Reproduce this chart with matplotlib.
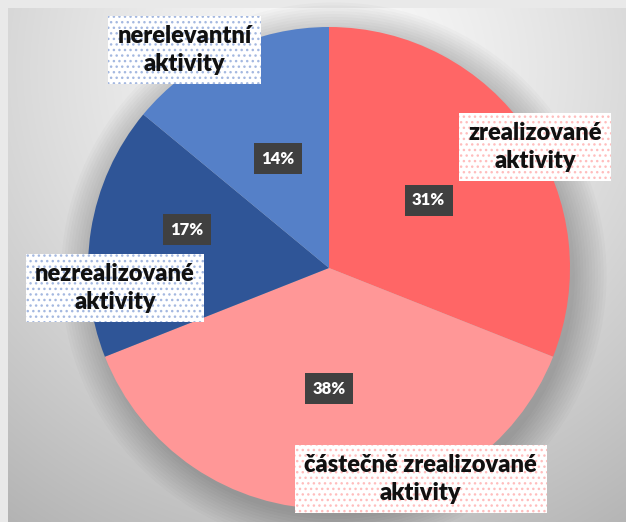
import numpy as np
import matplotlib as mpl
mpl.use('Agg')
import matplotlib.pyplot as plt
from matplotlib.patches import Circle

plt.rcParams['font.family'] = ['Lato', 'DejaVu Sans']
plt.rcParams['hatch.linewidth'] = 1.0

# data
categories = ['zrealizované\naktivity', 'částečně zrealizované\naktivity',
              'nezrealizované\naktivity', 'nerelevantní\naktivity']
shares = [31, 38, 17, 14]
colors = ['#FF6666', '#FF9797', '#2F5597', '#5580C8']
dots = ['#FFBDBD', '#FFBDBD', '#A4B8E0', '#A4B8E0']

W, H = 626, 522
R = 241.0          # pie radius in px
cx, cy = 329, 268  # pie centre in px (from top)

fig = plt.figure(figsize=(W / 100, H / 100), dpi=100)
fig.patch.set_facecolor('#E9E9E9')

# background panel with radial gradient
bg = fig.add_axes([8 / W, 0, 1 - 8 / W, 1 - 8 / H])
bg.set_axis_off()
yy, xx = np.mgrid[0:514, 0:618]
d = np.sqrt(((xx - 320) / 520.0) ** 2 + ((yy - 60) / 520.0) ** 2)
g = np.clip(0.985 - 0.26 * d ** 1.3, 0, 1)
bg.imshow(np.dstack([g, g, g]), aspect='auto', interpolation='bilinear')

ax = fig.add_axes([0, 0, 1, 1])
ax.set_axis_off()
ax.patch.set_alpha(0)

# soft shadow behind the pie
for k in range(12):
    ax.add_patch(Circle((0.02, -0.03), 1.0 + 0.012 * k, color='black',
                        alpha=0.018, lw=0, zorder=0))

wedges, _ = ax.pie(shares, colors=colors, startangle=90, counterclock=False,
                   wedgeprops=dict(linewidth=0), radius=1.0)
for w in wedges:
    w.set_zorder(2)

ax.set_xlim(-cx / R, (W - cx) / R)
ax.set_ylim(-(H - cy) / R, cy / R)
ax.set_aspect('auto')

# percentage labels
pct_r = [0.5, 0.5, 0.61, 0.5]
pct_shift = [0, 0, -6, 0]
for w, v, r, s in zip(wedges, shares, pct_r, pct_shift):
    a = np.deg2rad((w.theta1 + w.theta2) / 2 + s)
    ax.text(r * np.cos(a), r * np.sin(a), f'{v}%', ha='center', va='center',
            color='white', fontsize=12, fontweight='heavy', zorder=5,
            bbox=dict(boxstyle='square,pad=0.45', facecolor='#404040',
                      edgecolor='none'))

# category labels
label_pos = [(0.855, 0.502), (0.381, -0.875), (-0.888, -0.083), (-0.598, 0.905)]
for (x, y), txt, dc in zip(label_pos, categories, dots):
    ax.text(x, y, txt, ha='center', va='center', color='#111111',
            fontsize=17, fontweight='heavy', linespacing=1.3, zorder=6,
            bbox=dict(boxstyle='square,pad=0.4', facecolor='white',
                      edgecolor=dc, linewidth=0, hatch='...'))

fig.savefig('out.png', dpi=100)
